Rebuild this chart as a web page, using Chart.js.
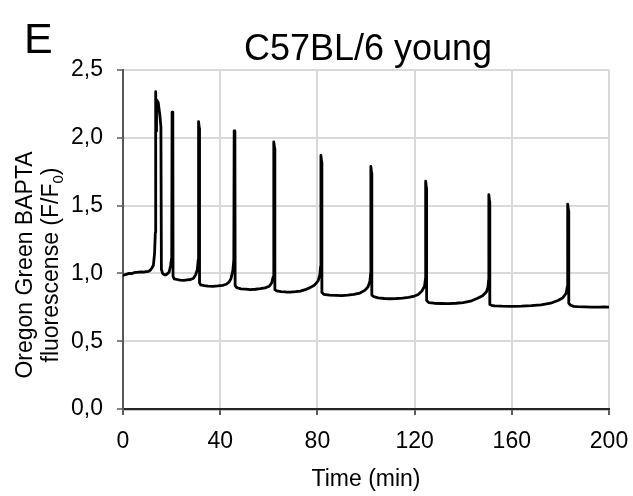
<!DOCTYPE html>
<html>
<head>
<meta charset="utf-8">
<script src="https://cdn.jsdelivr.net/npm/chart.js@4/dist/chart.umd.min.js"></script>
<style>
  html, body { margin: 0; padding: 0; background: #ffffff; }
  #wrap { width: 633px; height: 496px; }
</style>
</head>
<body>
<div id="wrap"><canvas id="c" width="633" height="496"></canvas></div>
<script>
// ---- Data ----
const panelLetter = 'E';
const chartTitle = 'C57BL/6 young';
const xAxisTitle = 'Time (min)';
const yAxisTitleLine1 = 'Oregon Green BAPTA';
const yAxisTitleLine2 = ['fluorescense (F/F', '0', ')']; // "0" is a subscript

const xTickLabels = ['0', '40', '80', '120', '160', '200'];
const yTickLabels = ['0,0', '0,5', '1,0', '1,5', '2,0', '2,5'];

// Time (min)
const timeMin = [
  0, 0.8, 1.6, 2.5, 3.5, 4.5, 5.5, 6.5, 7.5, 8.5, 9.5, 10.5, 11.3, 11.9, 12.5, 13.0, 13.3, 13.45, 13.6, 13.8,
  14.5, 15.2, 15.6, 15.8, 16.3, 17.0, 17.8, 18.4, 19.0, 19.6, 20.05, 20.2, 20.5, 20.6, 21.0,
  22.3, 23.5, 25, 26.5, 27.8, 29, 29.9, 30.6, 30.95, 31.1, 31.4, 31.5, 32.0, 33.5, 35, 37, 39, 41,
  42.5, 43.6, 44.4, 45.2, 45.6, 45.75, 46.05, 46.15, 46.8, 48.5, 50.5, 52.5, 54.5, 56.5, 58.5, 60.2,
  61.2, 61.8, 62.0, 62.1, 62.4, 62.5, 63.2, 65, 67, 69, 71, 73, 75, 77, 78.7, 80.3, 81.0, 81.3, 81.45,
  81.75, 81.85, 82.6, 85, 87.5, 90, 92.5, 95, 97.5, 99.5, 100.8, 101.6, 101.9, 102.0, 102.3, 102.4,
  103.2, 105, 107.5, 110, 112.5, 115, 117.5, 119.5, 121.5, 123, 124.1, 124.45, 124.55, 124.85, 124.95,
  125.8, 128, 131, 134, 137, 140, 143, 145.7, 148, 149.6, 150.2, 150.45, 150.55, 150.85, 150.95, 151.6, 153, 156,
  160, 164, 168, 172, 176, 179, 181, 182.4, 182.8, 182.95, 183.05, 183.35, 183.45, 184.2, 185.5, 187, 190, 193,
  196, 198, 200
];

// Oregon Green BAPTA fluorescence (F/F0)
const fluorescence = [
  0.985, 0.99, 0.995, 1.0, 0.998, 1.005, 1.008, 1.01, 1.012, 1.01, 1.013, 1.015, 1.025, 1.04, 1.06, 1.15, 1.3, 2.34, 2.05, 2.28,
  2.26, 2.16, 2.08, 1.03, 1.0, 0.99, 0.99, 1.0, 1.01, 1.06, 1.12, 2.19, 2.14, 0.98, 0.96,
  0.955, 0.95, 0.948, 0.952, 0.955, 0.965, 0.99, 1.03, 1.1, 2.12, 2.07, 0.93, 0.915, 0.91, 0.906, 0.905, 0.908, 0.912,
  0.92, 0.935, 0.96, 1.02, 1.1, 2.05, 2.0, 0.91, 0.895, 0.886, 0.884, 0.88, 0.883, 0.887, 0.893, 0.905,
  0.93, 0.975, 1.05, 1.97, 1.92, 0.88, 0.872, 0.866, 0.863, 0.862, 0.865, 0.87, 0.88, 0.895, 0.912, 0.945, 0.99, 1.05, 1.87,
  1.82, 0.86, 0.846, 0.84, 0.838, 0.836, 0.84, 0.845, 0.855, 0.875, 0.9, 0.94, 1.0, 1.79, 1.74, 0.84,
  0.828, 0.82, 0.815, 0.813, 0.815, 0.818, 0.823, 0.83, 0.845, 0.87, 0.905, 0.96, 1.68, 1.63, 0.8,
  0.785, 0.78, 0.778, 0.777, 0.78, 0.785, 0.795, 0.815, 0.835, 0.865, 0.9, 0.95, 1.58, 1.53, 0.77, 0.765, 0.76, 0.758,
  0.757, 0.758, 0.762, 0.768, 0.78, 0.8, 0.82, 0.855, 0.9, 0.95, 1.51, 1.46, 0.78, 0.765, 0.757, 0.755, 0.753, 0.752,
  0.751, 0.753, 0.752
];

const FONT = "'Liberation Sans', Arial, Helvetica, sans-serif";

const points = timeMin.map((t, i) => ({ x: t, y: fluorescence[i] }));

const textPlugin = {
  id: 'figureText',
  afterDraw(chart) {
    const ctx = chart.ctx;
    const area = chart.chartArea;
    ctx.save();
    ctx.fillStyle = '#000000';
    ctx.textBaseline = 'alphabetic';

    // Panel letter
    ctx.font = '43px ' + FONT;
    ctx.textAlign = 'left';
    ctx.fillText(panelLetter, 24, 53);

    // Title
    ctx.font = '36px ' + FONT;
    ctx.textAlign = 'center';
    ctx.fillText(chartTitle, 368, 60);

    // X axis title
    ctx.font = '23px ' + FONT;
    ctx.textAlign = 'center';
    ctx.fillText(xAxisTitle, (area.left + area.right) / 2, 486);

    // Y axis title (rotated, two lines)
    const cy = 265;
    ctx.save();
    ctx.translate(32, cy);
    ctx.rotate(-Math.PI / 2);
    ctx.font = '23px ' + FONT;
    ctx.textAlign = 'center';
    ctx.fillText(yAxisTitleLine1, 0, 0);
    ctx.restore();

    ctx.save();
    ctx.translate(58, cy);
    ctx.rotate(-Math.PI / 2);
    const mainFont = '23px ' + FONT;
    const subFont = '15px ' + FONT;
    ctx.font = mainFont;
    const w1 = ctx.measureText(yAxisTitleLine2[0]).width;
    const w3 = ctx.measureText(yAxisTitleLine2[2]).width;
    ctx.font = subFont;
    const w2 = ctx.measureText(yAxisTitleLine2[1]).width;
    const total = w1 + w2 + w3;
    let x0 = -total / 2;
    ctx.textAlign = 'left';
    ctx.font = mainFont;
    ctx.fillText(yAxisTitleLine2[0], x0, 0);
    ctx.font = subFont;
    ctx.fillText(yAxisTitleLine2[1], x0 + w1, 5);
    ctx.font = mainFont;
    ctx.fillText(yAxisTitleLine2[2], x0 + w1 + w2, 0);
    ctx.restore();

    ctx.restore();
  }
};

new Chart(document.getElementById('c'), {
  type: 'line',
  data: {
    datasets: [{
      data: points,
      borderColor: '#000000',
      borderWidth: 2.8,
      pointRadius: 0,
      tension: 0,
      borderJoinStyle: 'round',
      borderCapStyle: 'round',
      fill: false
    }]
  },
  options: {
    responsive: false,
    animation: false,
    devicePixelRatio: 1,
    layout: { padding: { top: 70, right: 24, left: 0, bottom: 0 } },
    plugins: { legend: { display: false }, title: { display: false }, tooltip: { enabled: false } },
    scales: {
      x: {
        type: 'linear',
        min: 0,
        max: 200,
        afterFit(scale) { scale.height = 87; scale.paddingLeft = 0; scale.paddingRight = 0; },
        afterBuildTicks(scale) {
          scale.ticks = xTickLabels.map(l => ({ value: Number(l) }));
        },
        ticks: {
          stepSize: 40,
          padding: 13,
          color: '#000000',
          font: { family: FONT, size: 23 },
          maxRotation: 0,
          autoSkip: false,
          callback: (v, i) => xTickLabels[i]
        },
        grid: {
          color: (c) => (c.tick && c.tick.value === 0) ? 'rgba(0,0,0,0)' : '#d9d9d9',
          lineWidth: 2,
          tickColor: '#262626',
          tickLength: 6,
          tickWidth: 1.5
        },
        border: { display: true, color: '#262626', width: 2.2 }
      },
      y: {
        type: 'linear',
        min: 0,
        max: 2.5,
        afterFit(scale) { scale.width = 123; scale.paddingTop = 0; scale.paddingBottom = 0; },
        afterBuildTicks(scale) {
          scale.ticks = yTickLabels.map((l, i) => ({ value: i * 0.5 }));
        },
        ticks: {
          stepSize: 0.5,
          padding: 14,
          color: '#000000',
          font: { family: FONT, size: 23 },
          autoSkip: false,
          callback: (v, i) => yTickLabels[i]
        },
        grid: {
          color: (c) => (c.tick && c.tick.value === 0) ? 'rgba(0,0,0,0)' : '#d9d9d9',
          lineWidth: 2,
          tickColor: '#595959',
          tickLength: 6,
          tickWidth: 1.5
        },
        border: { display: true, color: '#595959', width: 2 }
      }
    }
  },
  plugins: [textPlugin]
});
</script>
</body>
</html>
